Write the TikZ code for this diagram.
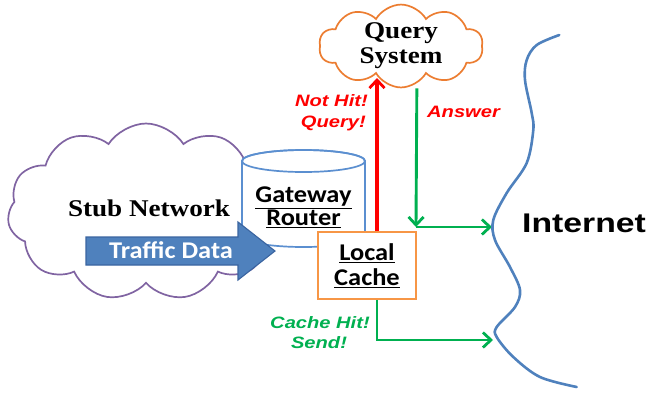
\documentclass[tikz,border=0pt]{standalone}
\usepackage{fontspec}
\newfontfamily\calfont[FakeStretch=1.1]{Carlito}
\newfontfamily\lblfont[FakeStretch=1.22]{Liberation Sans}
\newfontfamily\intfont[FakeStretch=1.25]{Liberation Sans}
\newfontfamily\timesfont[FakeStretch=1.13]{Liberation Serif}
\usetikzlibrary{shapes.symbols,arrows.meta}
\definecolor{cloudpurple}{HTML}{8064A2}
\definecolor{cylblue}{HTML}{5B8FD0}
\definecolor{arrblue}{HTML}{4F81BD}
\definecolor{arrborder}{HTML}{3A64A0}
\definecolor{boxorange}{HTML}{F79646}
\definecolor{cloudorange}{HTML}{EC7D31}
\definecolor{grn}{HTML}{00B050}
\definecolor{curveblue}{HTML}{4F81BD}
\tikzset{
  calibri/.style={font=\calfont\bfseries\fontsize{24}{23}\selectfont},
  stubfont/.style={font=\timesfont\bfseries\fontsize{24}{25}\selectfont},
  qsfont/.style={font=\timesfont\bfseries\fontsize{24}{25}\selectfont},
  lbl/.style={font=\lblfont\bfseries\itshape\fontsize{16.5}{20}\selectfont, inner sep=0},
  redline/.style={draw=red, line width=3.6pt},
  grnline/.style={draw=grn, line width=2.9pt},
  barb/.style={-{Straight Barb[length=8pt,width=15pt,line width=2.8pt]}},
}
\begin{document}
\begin{tikzpicture}[x=1pt,y=-1pt]
\useasboundingbox (0,0) rectangle (649,392);
% stub network cloud
\node[cloud, cloud puffs=11, cloud puff arc=115, cloud ignores aspect,
      minimum width=277, minimum height=177, draw=cloudpurple, fill=white,
      line width=1.7pt] (stub) at (146,212) {};
% gateway router cylinder
\filldraw[draw=cylblue, fill=white, line width=1.7pt]
  (242,161) -- (242,236) arc[start angle=180, end angle=360, x radius=61.5, y radius=-11]
  -- (365,161) arc[start angle=0, end angle=180, x radius=61.5, y radius=-11] -- cycle;
\draw[draw=cylblue, line width=1.7pt] (303.5,161) ellipse[x radius=61.5, y radius=11];
\node[calibri, align=center, inner sep=0] (gw) at (303.5,207.5)
  {\underline{Gateway}\\\underline{Router}};
% traffic data arrow
\filldraw[fill=arrblue, draw=arrborder, line width=1.1pt]
  (86,237) -- (238,237) -- (238,222) -- (275,251) -- (238,280) -- (238,265) -- (86,265) -- cycle;
\node[calibri, text=white, anchor=base, inner sep=0] (td) at (171,258) {Traffic Data};
\node[stubfont, anchor=base, inner sep=0] (sn) at (149,216) {Stub Network};
% local cache
\node[draw=boxorange, fill=white, line width=1.7pt, minimum width=98, minimum height=67,
      inner sep=0, align=center, font=\calfont\bfseries\fontsize{24}{25}\selectfont]
      (lc) at (367,265.5) {\underline{Local}\\\underline{Cache}};
% query system cloud
\node[cloud, cloud puffs=10, cloud puff arc=120, cloud ignores aspect,
      minimum width=164, minimum height=74, draw=cloudorange, fill=white,
      line width=1.7pt, qsfont, align=center, inner sep=0] (qs) at (401,46)
      {Query\\System};
% coordinates
\coordinate (rx) at (377,78);
\coordinate (ga) at (416,227);
\coordinate (ia) at (492,227);
\coordinate (ib) at (493,340);
% connectors
\draw[redline, -{Straight Barb[length=8pt,width=15pt,line width=2.8pt]}] (lc.north -| rx) -- (rx);
\draw[grnline, barb] (lc.east |- qs.south) -- (ga);
\draw[grnline, barb] (ga) -- (ia);
\draw[grnline, barb] (lc.south -| rx) |- (ib);
% labels
\node[lbl, text=red, anchor=base east] (nh) at (368,106) {Not Hit!};
\node[lbl, text=red, anchor=base east] (nq) at (366,127) {Query!};
\node[lbl, text=red, anchor=base west] (ans) at (427,117) {Answer};
\node[lbl, text=grn, anchor=base] (ch) at (320,328) {Cache Hit!};
\node[lbl, text=grn, anchor=base] (sd) at (319,348) {Send!};
% internet
\draw[curveblue, line width=2.6pt, line cap=round] plot[smooth, tension=0.55] coordinates {
 (559.3,35) (536.7,45) (526.7,60) (525,80) (531.7,113) (533.3,130) (526.7,163)
 (506.7,193) (493.3,220) (495,240) (510,267) (520,290) (515,307) (496.7,327)
 (496.7,337) (513.3,357) (540,377) (576.7,387)};
\node[font=\intfont\bfseries\fontsize{27}{30}\selectfont, anchor=base, inner sep=0] (inet) at (584,232) {Internet};
\end{tikzpicture}
\end{document}
